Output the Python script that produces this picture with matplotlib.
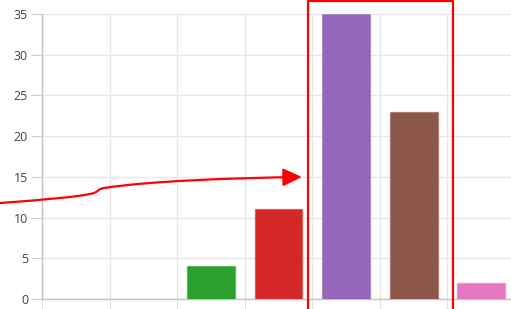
import matplotlib
matplotlib.use("Agg")
import matplotlib.pyplot as plt
from matplotlib.path import Path
from matplotlib.patches import FancyArrowPatch, Rectangle

categories = ["A", "B", "C", "D", "E", "F", "G"]
values = [0, 0, 4, 11, 35, 23, 2]
colors = ["#1f77b4", "#ff7f0e", "#2ca02c", "#d62728", "#9467bd", "#8c564b", "#e377c2"]
y_ticks = [0, 5, 10, 15, 20, 25, 30, 35]

W, H = 511, 309
fig = plt.figure(figsize=(W / 100, H / 100), dpi=100)
plt.rcParams['font.family'] = ['Open Sans', 'DejaVu Sans']

def fx(px):
    return px / W

def fy(py):
    return 1 - py / H

ax = fig.add_axes([fx(42), fy(299), (515 - 42) / W, (299 - 14) / H])
x = list(range(len(categories)))
bars = ax.bar(x, values, width=0.71, color=colors, edgecolor=[c + "80" for c in colors], linewidth=1, zorder=3)
for b, v in zip(bars, values):
    if v == 0:
        b.set_linewidth(0)
ax.set_xlim(-0.5, len(categories) - 0.5)
ax.set_ylim(0, 35)
ax.set_yticks(y_ticks)
ax.set_xticks([i - 0.5 for i in range(len(categories) + 1)])
ax.set_xticklabels([])
ax.grid(True, color="#e8e8e8", linewidth=1, zorder=0)
for s in ["top", "right"]:
    ax.spines[s].set_visible(False)
for s in ["left", "bottom"]:
    ax.spines[s].set_color("#c4c4c4")
    ax.spines[s].set_linewidth(1)
ax.tick_params(axis="y", colors="#d0d0d0", labelcolor="#444444", labelsize=9, length=8, pad=2)
ax.tick_params(axis="x", colors="#e0e0e0", length=10)

# highlight box
rect = Rectangle((fx(308), fy(312)), fx(453) - fx(308), fy(0.5) - fy(312),
                 transform=fig.transFigure, fill=False, edgecolor="red", linewidth=1.6, zorder=10)
fig.patches.append(rect)

# arrow
pts = [(0, 203), (40, 200), (80, 197), (94, 193),
       (99, 191), (98, 189), (104, 188),
       (150, 181), (230, 178), (302, 177)]
codes = [Path.MOVETO] + [Path.CURVE4] * 9
path = Path([(fx(a), fy(b)) for a, b in pts], codes)
arrow = FancyArrowPatch(path=path, arrowstyle="-|>,head_length=1.15,head_width=0.54",
                        mutation_scale=10, color="red", linewidth=1.6,
                        transform=fig.transFigure, zorder=10)
fig.patches.append(arrow)

fig.savefig("out.png", dpi=100)
